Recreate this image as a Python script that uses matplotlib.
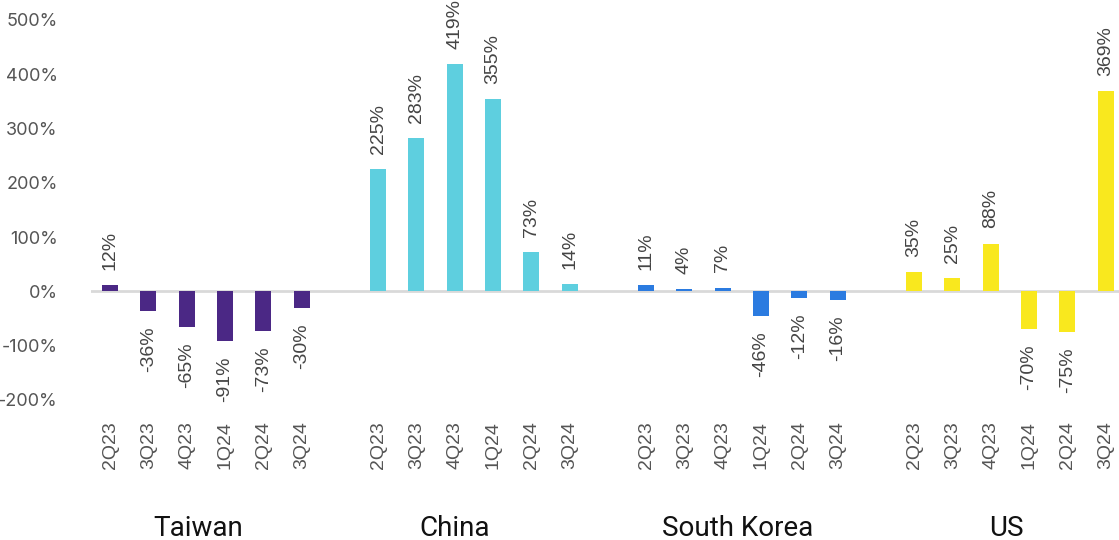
import matplotlib
matplotlib.use("Agg")
import matplotlib.pyplot as plt

regions = ["Taiwan", "China", "South Korea", "US"]
quarters = ["2Q23", "3Q23", "4Q23", "1Q24", "2Q24", "3Q24"]
taiwan = [12, -36, -65, -91, -73, -30]
china = [225, 283, 419, 355, 73, 14]
south_korea = [11, 4, 7, -46, -12, -16]
us = [35, 25, 88, -70, -75, 369]
series = [taiwan, china, south_korea, us]
colors = ["#4B2885", "#5ECFDF", "#2B7BE0", "#F9E81E"]

plt.rcParams['font.family'] = ['Liberation Sans', 'DejaVu Sans']
fig = plt.figure(figsize=(11.19, 5.40), dpi=100)
W, H = 1119, 540
ax = fig.add_axes([91 / W, 1 - 400 / H, (1119 - 91) / W, (400 - 20) / H])

label_offsets = [2.3, 2.0, 2.4, 2.4]
tick_pos, tick_lab = [], []
for gi, (vals, col) in enumerate(zip(series, colors)):
    xs = [gi * 7 + i for i in range(len(vals))]
    ax.bar(xs, vals, width=0.42, color=col, zorder=3)
    for x, v in zip(xs, vals):
        if v >= 0:
            ax.text(x, v + 28, f"{v}%", rotation=90, ha="center", va="bottom",
                    fontsize=14, color="#444444", clip_on=False)
        else:
            ax.text(x, v - 28, f"{v}%", rotation=90, ha="center", va="top",
                    fontsize=14, color="#444444", clip_on=False)
    tick_pos += xs
    tick_lab += quarters
    ax.text(gi * 7 + label_offsets[gi], -436, regions[gi], ha="center", va="center",
            fontsize=20, color="#111111", clip_on=False,
            family=['Roboto', 'DejaVu Sans'])

ax.axhline(0, color="#d9d9d9", lw=2, zorder=2)
ax.set_xlim(-0.5, 26.35)
ax.set_ylim(-200, 500)
ax.set_yticks(range(-200, 501, 100))
ax.set_yticklabels([f"{t}%" for t in range(-200, 501, 100)],
                   family=['Inter', 'DejaVu Sans'], fontsize=13)
ax.set_xticks(tick_pos)
ax.set_xticklabels(tick_lab, rotation=90, va="top", fontsize=14)
ax.tick_params(axis="both", length=0, labelcolor="#555555")
ax.tick_params(axis="y", pad=24)
ax.tick_params(axis="x", pad=15)
for s in ax.spines.values():
    s.set_visible(False)

fig.savefig("out.png", dpi=100)
